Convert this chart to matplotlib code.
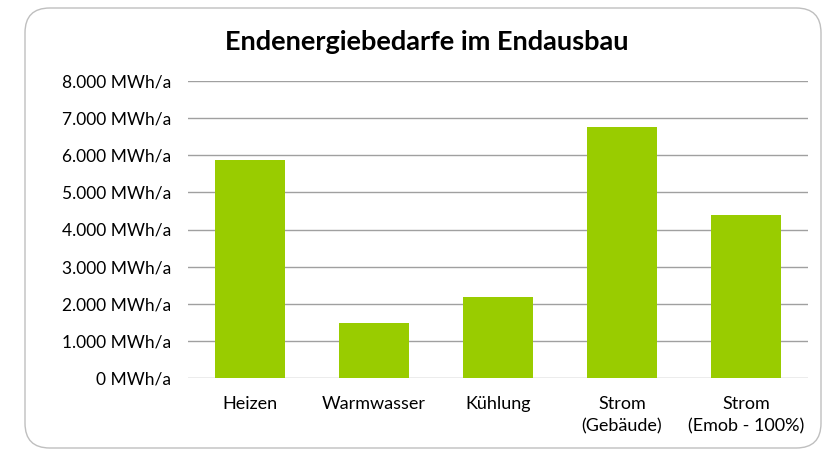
import matplotlib.pyplot as plt
from matplotlib.patches import FancyBboxPatch

categories = ["Heizen", "Warmwasser", "Kühlung", "Strom\n(Gebäude)", "Strom\n(Emob - 100%)"]
values = [5870, 1470, 2180, 6770, 4390]
yticks = [0, 1000, 2000, 3000, 4000, 5000, 6000, 7000, 8000]
ytick_labels = ["0 MWh/a", "1.000 MWh/a", "2.000 MWh/a", "3.000 MWh/a", "4.000 MWh/a",
                "5.000 MWh/a", "6.000 MWh/a", "7.000 MWh/a", "8.000 MWh/a"]

plt.rcParams["font.family"] = ["Lato", "DejaVu Sans"]

fig = plt.figure(figsize=(8.26, 4.51), dpi=100)
ax = fig.add_axes([188 / 826, 1 - 378 / 451, 620 / 826, 297 / 451])

x = range(len(categories))
ax.bar(x, values, width=0.57, color="#99CC00", zorder=3)

ax.set_xlim(-0.5, len(categories) - 0.5)
ax.set_ylim(0, 8000)
ax.set_yticks(yticks)
ax.set_yticklabels(ytick_labels, fontsize=12.5)
ax.set_xticks(list(x))
ax.set_xticklabels(categories, fontsize=13, linespacing=1.45)
ax.tick_params(axis="y", length=0, pad=12)
ax.tick_params(axis="x", length=0, pad=13)
ax.grid(axis="y", color="#a0a0a0", linewidth=1, zorder=0)
for s in ax.spines.values():
    s.set_visible(False)

fig.text(427 / 826, 1 - 42 / 451, "Endenergiebedarfe im Endausbau",
         ha="center", va="center", fontsize=19.5, fontweight="bold")

border = FancyBboxPatch((25 / 826, 3 / 451), 796 / 826, 440 / 451,
                        boxstyle="round,pad=0,rounding_size=0.03",
                        transform=fig.transFigure, facecolor="none",
                        edgecolor="#bfbfbf", linewidth=1, mutation_aspect=826 / 451)
fig.patches.append(border)

fig.savefig("out.png", dpi=100)
